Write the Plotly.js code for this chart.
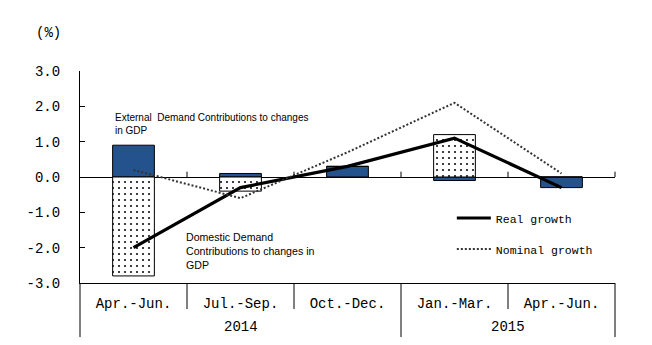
<!DOCTYPE html>
<html>
<head>
<meta charset="utf-8">
<script src="https://cdn.plot.ly/plotly-3.0.1.min.js"></script>
<style>html,body{margin:0;padding:0;background:#fff;}</style>
</head>
<body>
<div id="chart" style="width:652px;height:345px;"></div>
<script>
// ---- data ----
var quarters = ["Apr.-Jun.", "Jul.-Sep.", "Oct.-Dec.", "Jan.-Mar.", "Apr.-Jun."];
var years = ["2014", "2015"];
var yearCenters = [1, 3.5];
var externalDemand = [0.9, 0.1, 0.3, -0.1, -0.3];
var domesticDemand = [-2.8, -0.4, 0.0, 1.2, 0.0];
var realGrowth = [-2.0, -0.3, 0.3, 1.1, -0.3];
var nominalGrowth = [0.2, -0.6, 0.7, 2.1, 0.1];
var yTickVals = [-3, -2, -1, 0, 1, 2, 3];
var yTickText = ["-3.0", "-2.0", "-1.0", "0.0", "1.0", "2.0", "3.0"];

var idx = quarters.map(function (q, i) { return i; });
var mono = "Liberation Mono, Courier New, monospace";
var sans = "Liberation Sans, Arial, sans-serif";

var traces = [
  {
    type: "bar", x: idx, y: externalDemand, width: 0.39, showlegend: false,
    name: "External Demand Contributions to changes in GDP",
    marker: { color: "#24528c", line: { color: "#000", width: 1 } },
    hoverinfo: "y"
  },
  {
    type: "bar", x: idx, y: domesticDemand, width: 0.39, showlegend: false,
    name: "Domestic Demand Contributions to changes in GDP",
    marker: {
      color: "#ffffff", line: { color: "#000", width: 1 },
      pattern: { shape: ".", fgcolor: "#000", bgcolor: "#fff", size: 6, solidity: 0.09 }
    },
    hoverinfo: "y"
  },
  {
    type: "scatter", mode: "lines", x: idx, y: realGrowth, name: "Real growth",
    line: { color: "#000", width: 3.2 }, legendgroup: "a"
  },
  {
    type: "scatter", mode: "lines", x: idx, y: nominalGrowth, name: "Nominal growth",
    line: { color: "#333", width: 2, dash: "2px,2px" }, legendgroup: "b"
  }
];

var shapes = [];
// upward ticks on zero line at category boundaries
for (var b = 1; b <= 5; b++) {
  shapes.push({ type: "line", xref: "paper", yref: "y", x0: b / 5, x1: b / 5, y0: 0, y1: 0.15,
    line: { color: "#000", width: 1 } });
}
// dividers in the label area
for (var d = 0; d <= 5; d++) {
  var full = (d === 0 || d === 3 || d === 5);
  shapes.push({ type: "line", xref: "paper", yref: "paper", x0: d / 5, x1: d / 5,
    y0: 0, y1: full ? -0.255 : -0.123, line: { color: "#000", width: 1 } });
}

var annotations = [
  { xref: "paper", yref: "paper", x: -0.058, y: 1.179, xanchor: "center", yanchor: "middle",
    text: "(%)", showarrow: false, font: { family: mono, size: 14, color: "#000" } },
  { xref: "paper", yref: "paper", x: 0.062, y: 0.815, xanchor: "left", yanchor: "top", align: "left",
    text: "External  Demand Contributions to changes<br>in GDP", showarrow: false,
    font: { family: sans, size: 10, color: "#000" } },
  { xref: "paper", yref: "paper", x: 0.195, y: 0.255, xanchor: "left", yanchor: "top", align: "left",
    text: "Domestic Demand<br>Contributions to changes in<br>GDP", showarrow: false,
    font: { family: sans, size: 10.6, color: "#000" } }
];
years.forEach(function (yr, i) {
  annotations.push({ xref: "x", yref: "paper", x: yearCenters[i], y: -0.206,
    xanchor: "center", yanchor: "middle", text: yr,
    showarrow: false, font: { family: mono, size: 14, color: "#000" } });
});

var layout = {
  width: 652, height: 345,
  margin: { l: 80, r: 37, t: 71, b: 62 },
  paper_bgcolor: "#fff", plot_bgcolor: "#fff",
  barmode: "relative",
  showlegend: true,
  legend: {
    x: 0.695, y: 0.375, xanchor: "left", yanchor: "top",
    font: { family: mono, size: 11.5, color: "#000" },
    bgcolor: "rgba(0,0,0,0)", tracegroupgap: 12, traceorder: "grouped",
    itemwidth: 34
  },
  xaxis: {
    range: [-0.5, 4.5], tickmode: "array", tickvals: idx, ticktext: quarters,
    showgrid: false, zeroline: false, showline: true, linecolor: "#000", linewidth: 1,
    ticks: "", ticklabelstandoff: 7,
    tickfont: { family: mono, size: 14, color: "#000" }, fixedrange: true
  },
  yaxis: {
    range: [-3, 3], tickmode: "array", tickvals: yTickVals, ticktext: yTickText,
    showgrid: false, zeroline: true, zerolinecolor: "#000", zerolinewidth: 1,
    showline: true, linecolor: "#000", linewidth: 1,
    ticks: "inside", ticklen: 5, tickcolor: "#000", ticklabelstandoff: 16,
    tickfont: { family: mono, size: 14, color: "#000" }, fixedrange: true
  },
  shapes: shapes,
  annotations: annotations
};

Plotly.newPlot("chart", traces, layout, { displayModeBar: false, staticPlot: true });
</script>
</body>
</html>
